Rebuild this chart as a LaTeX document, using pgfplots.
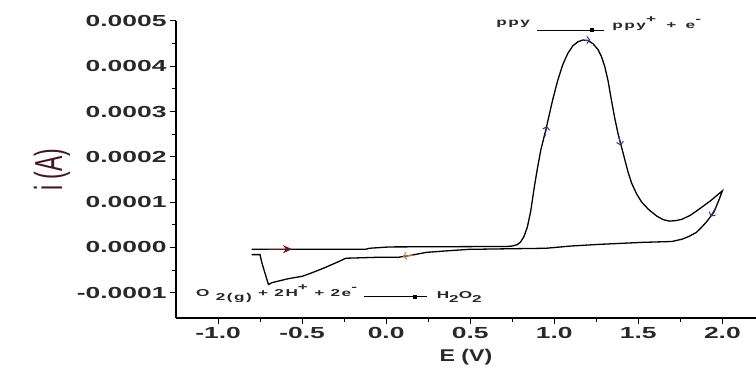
\documentclass[border=0pt]{standalone}
\usepackage{fontspec}
\setmainfont{Liberation Sans}
\newfontfamily\tickfont[FakeStretch=1.65]{Liberation Sans}
\newfontfamily\annfont[FakeStretch=1.72,LetterSpace=15]{Liberation Sans}
\newfontfamily\xlabfont[FakeStretch=1.36]{Liberation Sans}
\usepackage{graphicx}
\usepackage{pgfplots}
\pgfplotsset{compat=1.18}
\usetikzlibrary{arrows.meta}
\definecolor{lab}{RGB}{40,40,40}
\definecolor{mk}{RGB}{70,40,130}
\definecolor{fw}{RGB}{110,20,20}
\definecolor{org}{RGB}{200,120,40}
\definecolor{ylab}{RGB}{70,20,30}
\begin{document}
\begin{tikzpicture}
\useasboundingbox (-176bp,-54bp) rectangle (580bp,318bp);
\begin{axis}[
  scale only axis, width=580bp, height=297bp,
  xmin=-1.25, xmax=2.2, ymin=-0.000156, ymax=0.0005,
  axis x line=bottom, axis y line=left,
  axis line style={-, line width=1.2bp},
  tick align=outside, major tick length=6bp, minor tick length=4bp,
  tick style={line width=1bp, black},
  xtick={-1,-0.5,0,0.5,1,1.5,2}, minor x tick num=1,
  ytick={-0.0001,0,0.0001,0.0002,0.0003,0.0004,0.0005}, minor y tick num=1,
  scaled y ticks=false, scaled x ticks=false,
  /pgf/number format/assume math mode=true,
  xticklabel style={/pgf/number format/.cd, fixed, fixed zerofill, precision=1},
  yticklabel style={/pgf/number format/.cd, fixed, fixed zerofill, precision=4},
  tick label style={font=\tickfont\bfseries\fontsize{16bp}{18bp}\selectfont, text=lab},
  xlabel={\bfseries E (V)},
  xlabel style={font=\xlabfont\fontsize{17bp}{19bp}\selectfont, text=lab, yshift=-3bp},
  ylabel={\scalebox{1}[1.7]{i (A)}},
  ylabel style={font=\fontsize{23bp}{25bp}\selectfont, text=ylab},
  clip=false,
]
\addplot[black, line width=1.3bp] coordinates {
(-0.80,-0.000004) (-0.12,-0.000004) (-0.10,-0.000002) (0.02,0.000001)
(0.72,0.000002) (0.75,0.000003) (0.78,0.000006) (0.80,0.000012) (0.82,0.000024)
(0.84,0.000045) (0.86,0.000080) (0.88,0.000130) (0.90,0.000175) (0.92,0.000215) (0.95,0.000260)
(0.99,0.000325) (1.02,0.000368) (1.05,0.000403) (1.08,0.000428) (1.11,0.000445) (1.14,0.000454)
(1.17,0.000458) (1.20,0.000457) (1.23,0.000450) (1.26,0.000437) (1.28,0.000422) (1.30,0.000400)
(1.32,0.000368) (1.34,0.000325) (1.36,0.000285) (1.38,0.000250) (1.40,0.000222) (1.42,0.000193)
(1.44,0.000165) (1.46,0.000142) (1.49,0.000118) (1.52,0.000100) (1.56,0.000084) (1.61,0.000069)
(1.65,0.000061) (1.685,0.000058) (1.72,0.000059) (1.76,0.000062) (1.81,0.000071) (1.86,0.000084)
(1.93,0.000103) (2.00,0.000125)
(1.98,0.000105) (1.95,0.000078) (1.905,0.000056) (1.87,0.000042) (1.845,0.000033)
(1.80,0.000024) (1.76,0.000018) (1.70,0.000013) (1.52,0.000011) (1.27,0.0000067)
(1.10,0.000003) (0.95,-0.000002) (0.75,-0.000003) (0.49,-0.0000044)
(0.35,-0.000008) (0.24,-0.000011) (0.14,-0.000018) (0.07,-0.000022)
(-0.06,-0.000022) (-0.24,-0.000024) (-0.28,-0.000031) (-0.36,-0.000044)
(-0.44,-0.000056) (-0.50,-0.000064) (-0.58,-0.000069) (-0.68,-0.000078)
(-0.70,-0.000082) (-0.715,-0.000064) (-0.74,-0.000033) (-0.75,-0.000016)
(-0.80,-0.000016)
};
% direction arrows on the curve
\addplot[fw, line width=1.3bp, -{Stealth[length=9bp,width=8bp]}] coordinates {(-0.70,-0.000004) (-0.56,-0.000004)};
\addplot[mk, line width=1bp, -{Straight Barb[length=3bp,width=7bp]}] coordinates {(0.944,0.000245) (0.956,0.000268)};
\addplot[mk, line width=1bp, -{Straight Barb[length=3bp,width=7bp]}] coordinates {(1.185,0.000458) (1.215,0.000458)};
\addplot[mk, line width=1bp, -{Straight Barb[length=3bp,width=7bp]}] coordinates {(1.385,0.000245) (1.395,0.000225)};
\addplot[mk, line width=1bp, -{Straight Barb[length=3bp,width=7bp]}] coordinates {(1.96,0.000088) (1.93,0.000068)};
\addplot[org, line width=1bp, -{Straight Barb[length=3bp,width=7bp]}] coordinates {(0.16,-0.000017) (0.10,-0.000020)};
% annotations
\node[anchor=base west, inner sep=0pt, text=lab, font=\annfont\bfseries\fontsize{10bp}{12bp}\selectfont] at (axis cs:0.655,0.000489) {ppy};
\draw[line width=1bp, -{Square[length=4.5bp,width=4bp]}] (axis cs:0.899,0.00048) -- (axis cs:1.238,0.00048);
\draw[line width=1bp] (axis cs:1.238,0.00048) -- (axis cs:1.298,0.00048);
\node[anchor=base west, inner sep=0pt, text=lab, font=\annfont\bfseries\fontsize{10bp}{12bp}\selectfont] at (axis cs:1.345,0.000484) {ppy\raisebox{6bp}{+}\hspace{4bp} + \hspace{3bp}e\raisebox{6bp}{-}};
\node[anchor=base west, inner sep=0pt, text=lab, font=\annfont\bfseries\fontsize{10bp}{12bp}\selectfont] at (axis cs:-1.131,-0.000109) {O \raisebox{-4bp}{2(g)} + 2H\raisebox{6bp}{+} + 2e\raisebox{6bp}{-}};
\draw[line width=1bp, -{Square[length=4.5bp,width=4bp]}] (axis cs:-0.131,-0.000109) -- (axis cs:0.185,-0.000109);
\draw[line width=1bp] (axis cs:0.185,-0.000109) -- (axis cs:0.245,-0.000109);
\node[anchor=base west, inner sep=0pt, text=lab, font=\annfont\bfseries\fontsize{10bp}{12bp}\selectfont] at (axis cs:0.30,-0.000113) {H\raisebox{-4bp}{2}O\raisebox{-4bp}{2}};
\end{axis}
\end{tikzpicture}
\end{document}
